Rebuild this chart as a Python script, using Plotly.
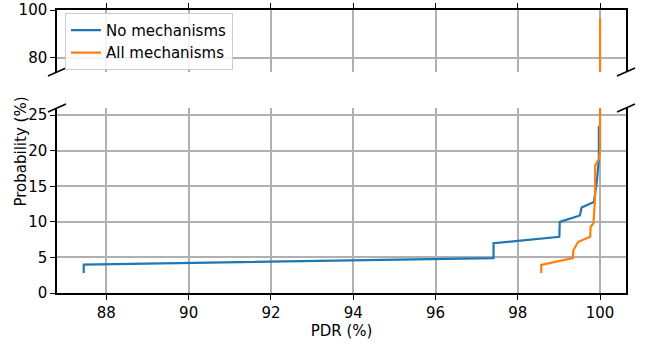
import plotly.graph_objects as go

# Data
no_mech_pdr = [87.45, 87.45, 97.41, 97.41, 99.01, 99.02, 99.51, 99.55, 99.85, 99.88, 99.92, 99.97, 99.97]
no_mech_prob = [2.8, 4.0, 4.9, 7.0, 7.9, 10.0, 10.9, 12.0, 12.8, 14.0, 15.6, 18.8, 23.5]

all_mech_pdr = [98.57, 98.57, 99.34, 99.35, 99.47, 99.76, 99.77, 99.84, 99.88, 99.88, 99.97, 100.0, 100.0]
all_mech_prob = [2.8, 3.95, 4.9, 6.0, 7.2, 7.9, 9.3, 9.8, 13.7, 17.9, 18.8, 20.0, 96.5]

x_ticks = [88, 90, 92, 94, 96, 98, 100]
y_ticks_bottom = [0, 5, 10, 15, 20, 25]
y_ticks_top = [80, 100]
x_range = [86.80, 100.63]
y_range_bottom = [0, 26]
y_range_top = [74, 100]

BLUE = "#1f77b4"
ORANGE = "#ff7f0e"
FONT = dict(family="DejaVu Sans", size=15, color="black")
GRID = "#b0b0b0"

fig = go.Figure()
# bottom panel
fig.add_trace(go.Scatter(x=no_mech_pdr, y=no_mech_prob, mode="lines", name="No mechanisms",
                         line=dict(color=BLUE, width=2.2), xaxis="x", yaxis="y", showlegend=True))
fig.add_trace(go.Scatter(x=all_mech_pdr, y=all_mech_prob, mode="lines", name="All mechanisms",
                         line=dict(color=ORANGE, width=2.2), xaxis="x", yaxis="y", showlegend=True))
# top panel
fig.add_trace(go.Scatter(x=no_mech_pdr, y=no_mech_prob, mode="lines", name="No mechanisms",
                         line=dict(color=BLUE, width=2.2), xaxis="x2", yaxis="y2", showlegend=False))
fig.add_trace(go.Scatter(x=all_mech_pdr, y=all_mech_prob, mode="lines", name="All mechanisms",
                         line=dict(color=ORANGE, width=2.2), xaxis="x2", yaxis="y2", showlegend=False))

ax_common = dict(showgrid=True, gridcolor=GRID, gridwidth=1.5, zeroline=False,
                 showline=True, linecolor="black", linewidth=1.5,
                 ticks="outside", ticklen=5, tickwidth=1.3, tickcolor="black",
                 tickfont=FONT, automargin=False)

fig.update_layout(
    width=646, height=345,
    margin=dict(l=57, r=20, t=10, b=52),
    plot_bgcolor="white", paper_bgcolor="white",
    font=FONT,
    xaxis=dict(**ax_common, range=x_range, tickvals=x_ticks, domain=[0, 1], anchor="y",
               title=dict(text="PDR (%)", font=FONT, standoff=4)),
    yaxis=dict(**ax_common, range=y_range_bottom, tickvals=y_ticks_bottom, domain=[0, 0.6537],
               anchor="x", mirror=True),
    xaxis2=dict(**ax_common, range=x_range, tickvals=x_ticks, domain=[0, 1], anchor="y2",
                side="top", showticklabels=False, matches="x"),
    yaxis2=dict(**ax_common, range=y_range_top, tickvals=y_ticks_top, domain=[0.781, 1],
                anchor="x2", mirror=True),
    legend=dict(x=0.014, y=0.99, xanchor="left", yanchor="top",
                bgcolor="rgba(255,255,255,0.85)", bordercolor="#cccccc", borderwidth=1,
                font=FONT, tracegroupgap=0, itemwidth=30),
    showlegend=True,
)

fig.add_annotation(text="Probability (%)", textangle=-90, xref="paper", yref="paper",
                   x=-0.065, y=0.5, xanchor="center", yanchor="middle", showarrow=False,
                   font=FONT)

# broken-axis diagonal marks
marks = [("x domain", "y2 domain", 0, 0), ("x domain", "y2 domain", 1, 0),
         ("x domain", "y domain", 0, 1), ("x domain", "y domain", 1, 1)]
for xr, yr, xa, ya in marks:
    fig.add_shape(type="line", xref=xr, yref=yr, xsizemode="pixel", ysizemode="pixel",
                  xanchor=xa, yanchor=ya, x0=-9, x1=9, y0=-4, y1=4,
                  line=dict(color="black", width=1.5))

fig.write_html("out.html", config={"displayModeBar": False},
               post_script="document.body.style.margin='0';")
